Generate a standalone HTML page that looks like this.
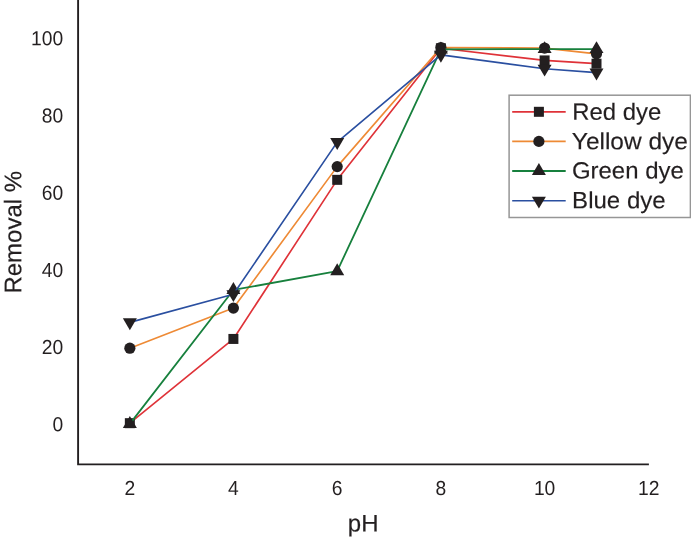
<!DOCTYPE html>
<html><head><meta charset="utf-8"><title>Removal % vs pH</title>
<style>
html,body{margin:0;padding:0;background:#fff;}
body{width:691px;height:540px;overflow:hidden;}
svg{display:block;}
text{text-rendering:geometricPrecision;font-family:"Liberation Sans",Arial,Helvetica,sans-serif;fill:#231f20;}
.tk{font-size:20.3px;}
.lg{font-size:23.5px;stroke:#231f20;stroke-width:0.15px;}
.ax{font-size:24px;stroke:#231f20;stroke-width:0.18px;}
</style></head><body>
<svg width="691" height="540" viewBox="0 0 691 540">
<rect width="691" height="540" fill="#ffffff"/>

<polyline points="129.85,423.17 233.40,338.94 337.20,179.84 440.90,48.27 544.60,60.42 596.50,63.69" fill="none" stroke="#df3238" stroke-width="1.65" stroke-linejoin="round"/>
<rect x="124.85" y="418.17" width="10.0" height="10.0" fill="#231f20"/>
<rect x="228.40" y="333.94" width="10.0" height="10.0" fill="#231f20"/>
<rect x="332.20" y="174.84" width="10.0" height="10.0" fill="#231f20"/>
<rect x="435.90" y="43.27" width="10.0" height="10.0" fill="#231f20"/>
<rect x="539.60" y="55.42" width="10.0" height="10.0" fill="#231f20"/>
<rect x="591.50" y="58.69" width="10.0" height="10.0" fill="#231f20"/>
<polyline points="129.85,348.19 233.40,308.10 337.20,166.62 440.90,47.50 544.60,48.08 596.50,53.86" fill="none" stroke="#ee8a35" stroke-width="1.65" stroke-linejoin="round"/>
<circle cx="129.85" cy="348.19" r="5.6" fill="#231f20"/>
<circle cx="233.40" cy="308.10" r="5.6" fill="#231f20"/>
<circle cx="337.20" cy="166.62" r="5.6" fill="#231f20"/>
<circle cx="440.90" cy="47.50" r="5.6" fill="#231f20"/>
<circle cx="544.60" cy="48.08" r="5.6" fill="#231f20"/>
<circle cx="596.50" cy="53.86" r="5.6" fill="#231f20"/>
<polyline points="129.85,423.87 233.40,289.98 337.20,271.09 440.90,49.43 544.60,49.04 596.50,49.04" fill="none" stroke="#17803d" stroke-width="1.8" stroke-linejoin="round"/>
<polygon points="129.85,415.97 136.85,427.92 122.85,427.92" fill="#231f20"/>
<polygon points="233.40,282.08 240.40,294.03 226.40,294.03" fill="#231f20"/>
<polygon points="337.20,263.19 344.20,275.14 330.20,275.14" fill="#231f20"/>
<polygon points="440.90,41.53 447.90,53.48 433.90,53.48" fill="#231f20"/>
<polygon points="544.60,41.14 551.60,53.09 537.60,53.09" fill="#231f20"/>
<polygon points="596.50,41.14 603.50,53.09 589.50,53.09" fill="#231f20"/>
<polyline points="129.85,322.36 233.40,294.22 337.20,142.14 440.90,54.83 544.60,68.70 596.50,72.56" fill="none" stroke="#2a4fa0" stroke-width="1.65" stroke-linejoin="round"/>
<polygon points="129.85,330.26 136.85,318.31 122.85,318.31" fill="#231f20"/>
<polygon points="233.40,302.12 240.40,290.17 226.40,290.17" fill="#231f20"/>
<polygon points="337.20,150.04 344.20,138.09 330.20,138.09" fill="#231f20"/>
<polygon points="440.90,62.73 447.90,50.78 433.90,50.78" fill="#231f20"/>
<polygon points="544.60,76.60 551.60,64.65 537.60,64.65" fill="#231f20"/>
<polygon points="596.50,80.46 603.50,68.51 589.50,68.51" fill="#231f20"/>
<path d="M78.1,0 V464.35 H648.9" fill="none" stroke="#231f20" stroke-width="1.9"/>
<text class="tk" transform="translate(63.1,431.35) rotate(0.03) scale(0.95,1)" text-anchor="end">0</text>
<text class="tk" transform="translate(63.1,354.13) rotate(0.03) scale(0.95,1)" text-anchor="end">20</text>
<text class="tk" transform="translate(63.1,276.91) rotate(0.03) scale(0.95,1)" text-anchor="end">40</text>
<text class="tk" transform="translate(63.1,199.69) rotate(0.03) scale(0.95,1)" text-anchor="end">60</text>
<text class="tk" transform="translate(63.1,122.47) rotate(0.03) scale(0.95,1)" text-anchor="end">80</text>
<text class="tk" transform="translate(63.1,45.25) rotate(0.03) scale(0.95,1)" text-anchor="end">100</text>
<text class="tk" transform="translate(129.85,494.95) rotate(0.03) scale(0.95,1)" text-anchor="middle">2</text>
<text class="tk" transform="translate(233.40,494.95) rotate(0.03) scale(0.95,1)" text-anchor="middle">4</text>
<text class="tk" transform="translate(337.20,494.95) rotate(0.03) scale(0.95,1)" text-anchor="middle">6</text>
<text class="tk" transform="translate(440.90,494.95) rotate(0.03) scale(0.95,1)" text-anchor="middle">8</text>
<text class="tk" transform="translate(544.60,494.95) rotate(0.03) scale(0.95,1)" text-anchor="middle">10</text>
<text class="tk" transform="translate(648.80,494.95) rotate(0.03) scale(0.95,1)" text-anchor="middle">12</text>
<text class="ax" transform="translate(363.2,531.5) rotate(0.03)" text-anchor="middle">pH</text>
<text class="ax" transform="translate(21.2,232.2) rotate(-89.97)" text-anchor="middle">Removal %</text>
<rect x="509.1" y="95.2" width="181.3" height="122.3" fill="#fff" stroke="#969696" stroke-width="1.5"/>
<line x1="512.2" y1="111.8" x2="565.7" y2="111.8" stroke="#df3238" stroke-width="1.65"/>
<rect x="533.90" y="106.80" width="10.0" height="10.0" fill="#231f20"/>
<text class="lg" transform="translate(572.2,119.70) rotate(0.03) scale(1.0169,1)">Red dye</text>
<line x1="512.2" y1="141.4" x2="565.7" y2="141.4" stroke="#ee8a35" stroke-width="1.65"/>
<circle cx="538.90" cy="141.40" r="5.6" fill="#231f20"/>
<text class="lg" transform="translate(571.8,149.30) rotate(0.03) scale(1.0415,1)">Yellow dye</text>
<line x1="512.2" y1="171.0" x2="565.7" y2="171.0" stroke="#17803d" stroke-width="1.8"/>
<polygon points="538.90,163.10 545.90,175.05 531.90,175.05" fill="#231f20"/>
<text class="lg" transform="translate(571.9,178.55) rotate(0.03) scale(1.0198,1)">Green dye</text>
<line x1="512.2" y1="200.7" x2="565.7" y2="200.7" stroke="#2a4fa0" stroke-width="1.65"/>
<polygon points="538.90,208.60 545.90,196.65 531.90,196.65" fill="#231f20"/>
<text class="lg" transform="translate(572.1,208.25) rotate(0.03) scale(1.0228,1)">Blue dye</text>
</svg></body></html>
